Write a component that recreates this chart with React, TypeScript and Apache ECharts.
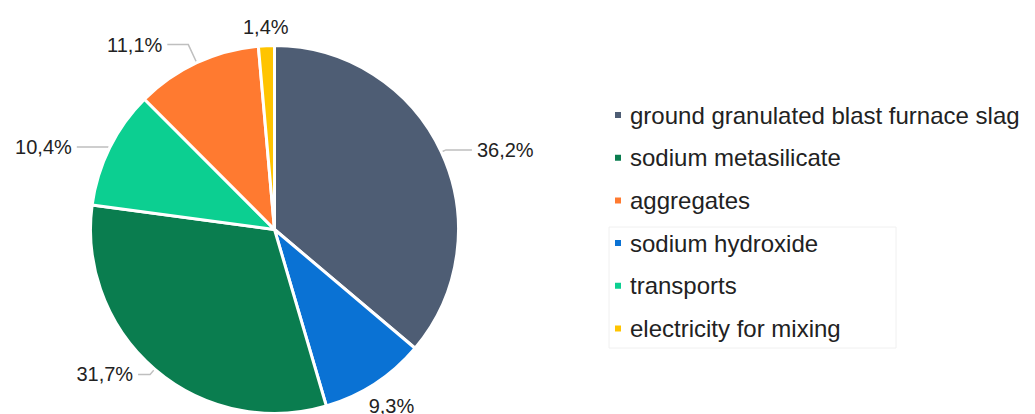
import React, { useEffect, useRef } from "react";
import * as echarts from "echarts";

const categories = [
  "ground granulated blast furnace slag",
  "sodium hydroxide",
  "sodium metasilicate",
  "transports",
  "aggregates",
  "electricity for mixing",
];
const values = [36.2, 9.3, 31.7, 10.4, 11.1, 1.4];
const colors = ["#4e5d74", "#0a72d4", "#0a7d4f", "#0ccf91", "#ff7a30", "#ffc400"];
const legendOrder = [
  "ground granulated blast furnace slag",
  "sodium metasilicate",
  "aggregates",
  "sodium hydroxide",
  "transports",
  "electricity for mixing",
];

// leader-line styling per slice (length, length2, visible)
const leaderLines = [
  { length: 5, length2: 26, show: true },
  { length: 27, length2: -26, show: false },
  { length: 7, length2: 12, show: true },
  { length: 2, length2: 31, show: true },
  { length: 20, length2: 21, show: true },
  { length: 19, length2: -28, show: false },
];

const FONT = "Liberation Sans, Arial, sans-serif";

export default function App() {
  const ref = useRef<HTMLDivElement>(null);
  useEffect(() => {
    if (!ref.current) return;
    const chart = echarts.init(ref.current, null, { renderer: "svg" });
    chart.setOption({
      animation: false,
      backgroundColor: "#ffffff",
      color: colors,
      graphic: [
        {
          type: "rect",
          shape: { x: 609, y: 227, width: 287, height: 121 },
          style: { fill: "none", stroke: "#f0f0f0", lineWidth: 1 },
          z: -1,
        },
      ],
      legend: {
        orient: "vertical",
        left: 613,
        top: 103,
        padding: 0,
        data: legendOrder,
        icon: "rect",
        itemWidth: 8,
        itemHeight: 8,
        itemGap: 18.7,
        textStyle: {
          fontFamily: FONT,
          fontSize: 24,
          lineHeight: 24,
          color: "#222222",
          padding: [0, 0, 0, 3],
        },
      },
      series: [
        {
          type: "pie",
          center: [274.5, 229.5],
          radius: [0, 184],
          startAngle: 90,
          clockwise: true,
          avoidLabelOverlap: false,
          itemStyle: { borderColor: "#ffffff", borderWidth: 3 },
          label: {
            show: true,
            position: "outside",
            fontFamily: FONT,
            fontSize: 20,
            color: "#222222",
            formatter: (p: any) => p.value.toFixed(1).replace(".", ",") + "%",
          },
          labelLine: {
            show: true,
            lineStyle: { color: "#bfbfbf", width: 1.5 },
          },
          data: categories.map((c, i) => ({
            name: c,
            value: values[i],
            labelLine: {
              show: leaderLines[i].show,
              length: leaderLines[i].length,
              length2: leaderLines[i].length2,
            },
          })),
        },
      ],
    });
    return () => chart.dispose();
  }, []);
  return (
    <div
      ref={ref}
      style={{ position: "absolute", left: 0, top: 0, width: 1035, height: 414 }}
    />
  );
}
